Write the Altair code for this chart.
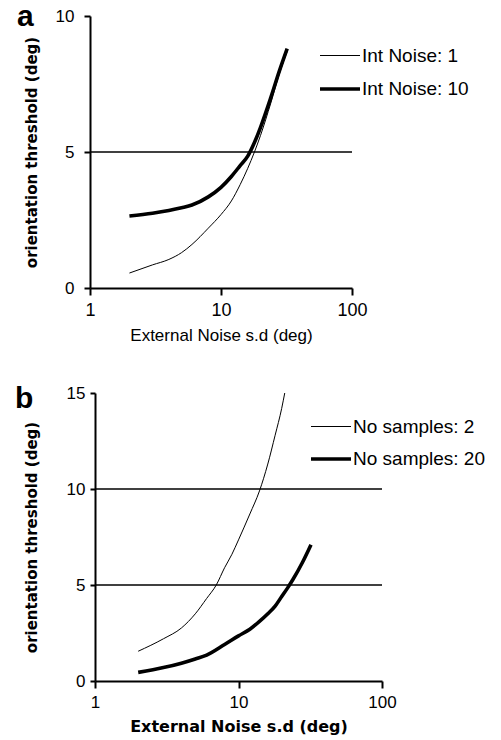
import altair as alt
import pandas as pd

# ---------------- data ----------------
ext_int1 = [2, 3, 4, 5, 6, 8, 10, 12, 14, 16, 18, 20, 24, 28, 32]
thr_int1 = [0.55, 0.85, 1.05, 1.3, 1.6, 2.2, 2.7, 3.2, 3.8, 4.4, 5.0, 5.6, 6.8, 7.9, 8.7]
ext_int10 = [2, 3, 4, 5, 6, 8, 10, 12, 14, 16, 18, 20, 24, 28, 32]
thr_int10 = [2.65, 2.75, 2.85, 2.95, 3.05, 3.35, 3.7, 4.1, 4.5, 4.85, 5.35, 5.9, 7.0, 8.0, 8.8]

ext_s2 = [2, 3, 4, 5, 6, 7, 8, 9, 10, 12, 14, 16, 18, 20, 21]
thr_s2 = [1.55, 2.2, 2.76, 3.5, 4.3, 5.0, 5.9, 6.6, 7.35, 8.7, 9.9, 11.3, 12.8, 14.2, 15.0]
ext_s20 = [2, 3, 4, 5, 6, 8, 10, 12, 14, 16, 18, 20, 22, 24, 28, 32]
thr_s20 = [0.45, 0.7, 0.93, 1.15, 1.35, 1.9, 2.35, 2.7, 3.1, 3.5, 3.9, 4.4, 4.85, 5.3, 6.2, 7.1]

series_a = ["Int Noise: 1", "Int Noise: 10"]
series_b = ["No samples: 2", "No samples: 20"]
ref_a = [5]
ref_b = [5, 10]
x_ticks = [1, 10, 100]
y_ticks_a = [0, 5, 10]
y_ticks_b = [0, 5, 10, 15]
panel_letters = ["a", "b"]

df_a = pd.concat([
    pd.DataFrame({"ext": ext_int1, "thr": thr_int1, "series": series_a[0]}),
    pd.DataFrame({"ext": ext_int10, "thr": thr_int10, "series": series_a[1]}),
])
df_b = pd.concat([
    pd.DataFrame({"ext": ext_s2, "thr": thr_s2, "series": series_b[0]}),
    pd.DataFrame({"ext": ext_s20, "thr": thr_s20, "series": series_b[1]}),
])

SANS = "Liberation Sans"
WIDE = "DejaVu Sans"


def panel(df, series, refs, yticks, ymax, letter, w, h, x0, legend_xy, row_pad,
          letter_xy, x_title_font, x_title_size, x_title_weight, tick_fs,
          y_label_pad, y_tick, y_title_pad):
    xs = alt.Scale(type="log", domain=[1, 100], nice=False, range=[x0, w])
    ys = alt.Scale(domain=[0, ymax], nice=False, zero=True)
    xax = alt.Axis(values=x_ticks, format="d", title="External Noise s.d (deg)",
                   titleFont=x_title_font, titleFontSize=x_title_size,
                   titleFontWeight=x_title_weight, titlePadding=8,
                   labelFont=SANS, labelFontSize=tick_fs, labelPadding=6, tickSize=7,
                   labelFlush=False, grid=False)
    yax = alt.Axis(values=yticks, title="orientation threshold (deg)", titleFont=WIDE,
                   titleFontSize=15, titleFontWeight="bold", titlePadding=y_title_pad,
                   labelFont=SANS, labelFontSize=17, labelPadding=y_label_pad,
                   tickSize=y_tick, labelFlush=False, grid=False, offset=-x0)

    rules = alt.Chart(pd.DataFrame({"y": refs, "x1": [1] * len(refs),
                                    "x2": [100] * len(refs)})).mark_rule(
        color="black", strokeWidth=1.5
    ).encode(x=alt.X("x1:Q", scale=xs, axis=xax), x2="x2:Q",
             y=alt.Y("y:Q", scale=ys, axis=yax))

    lines = alt.Chart(df).mark_line(color="black", interpolate="monotone").encode(
        x=alt.X("ext:Q", scale=xs, axis=xax),
        y=alt.Y("thr:Q", scale=ys, axis=yax),
        strokeWidth=alt.StrokeWidth(
            "series:N",
            scale=alt.Scale(domain=series, range=[1, 3.6]),
            legend=alt.Legend(
                title=None, orient="none", legendX=legend_xy[0], legendY=legend_xy[1],
                symbolType="stroke", symbolSize=1600, symbolStrokeColor="black",
                labelFont=SANS, labelFontSize=19, labelColor="black",
                labelOffset=0, rowPadding=row_pad, padding=0, labelLimit=300,
            ),
        ),
        detail="series:N",
    )

    label = alt.Chart(pd.DataFrame({"t": [letter]})).mark_text(
        font=SANS, fontSize=30, fontWeight="bold", align="left", baseline="alphabetic",
        color="black"
    ).encode(x=alt.value(letter_xy[0]), y=alt.value(letter_xy[1]), text="t:N")

    return alt.layer(rules, lines, label).properties(width=w, height=h)


pa = panel(df_a, series_a, ref_a, y_ticks_a, 10, panel_letters[0], 262, 272, 0,
           (228, 19), 1, (-73, 10), SANS, 17, "normal", 18, 10, 6, 16)
pb = panel(df_b, series_b, ref_b, y_ticks_b, 15, panel_letters[1], 292, 288, 5,
           (219, 13), 0, (-75, 15), WIDE, 16, "bold", 17, 5, 5, 27)

chart = alt.vconcat(pa, pb, spacing=41).resolve_scale(
    x="independent", y="independent", strokeWidth="independent"
).resolve_legend(strokeWidth="independent").properties(
    padding={"left": 15, "top": 2, "right": 5, "bottom": 5}
).configure_view(stroke=None).configure_axis(
    domainColor="black", domainWidth=2, tickColor="black", tickWidth=2,
    labelColor="black", titleColor="black"
)

chart.save("out.html", embed_options={"renderer": "svg", "actions": False})
